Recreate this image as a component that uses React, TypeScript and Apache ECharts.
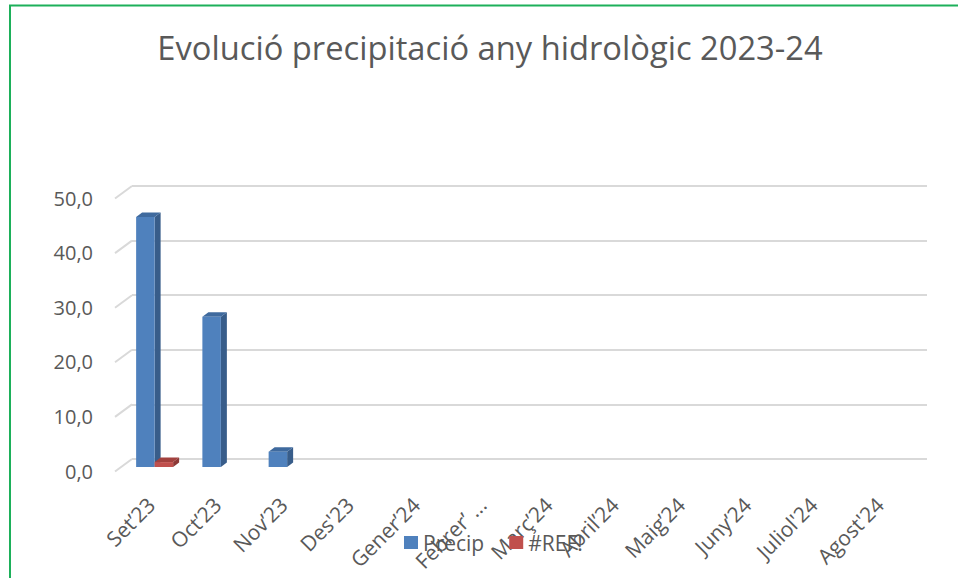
import React, { useEffect, useRef } from "react";
import * as echarts from "echarts";

const categories = [
  "Set’23", "Oct’23", "Nov’23", "Des'23", "Gener’24", "Febrer’ ...",
  "Març’24", "Abril’24", "Maig’24", "Juny’24", "Juliol'24", "Agost'24",
];
const precip: (number | null)[] = [45.8, 27.5, 2.8, null, null, null, null, null, null, null, null, null];
const refErr: (number | null)[] = [0.9, null, null, null, null, null, null, null, null, null, null, null];
const yTicks = [0, 10, 20, 30, 40, 50];

const TEXT = "#595959";
const GRIDC = "#d9d9d9";
const FONT = "Open Sans";

function bar3d(front: string, side: string, top: string, offset: number) {
  return (params: any, api: any) => {
    const v = api.value(1);
    if (v == null || isNaN(v)) return null;
    const idx = api.value(0);
    const p = api.coord([idx, v]);
    const b = api.coord([idx, 0]);
    const w = 18.5;
    const dx = -10.5, dy = 8;
    const x0 = p[0] + dx + offset - w / 2;
    const x1 = x0 + w;
    const yt = p[1] + dy;
    const yb = b[1] + dy;
    const ddx = 6, ddy = -4.5;
    return {
      type: "group",
      children: [
        {
          type: "polygon",
          shape: { points: [[x1, yt], [x1 + ddx, yt + ddy], [x1 + ddx, yb + ddy], [x1, yb]] },
          style: { fill: side },
        },
        {
          type: "polygon",
          shape: { points: [[x0, yt], [x0 + ddx, yt + ddy], [x1 + ddx, yt + ddy], [x1, yt]] },
          style: { fill: top },
        },
        { type: "rect", shape: { x: x0, y: yt, width: w, height: yb - yt }, style: { fill: front } },
      ],
    };
  };
}

export default function App() {
  const ref = useRef<HTMLDivElement>(null);
  useEffect(() => {
    if (!ref.current) return;
    const chart = echarts.init(ref.current, null, { renderer: "svg" });
    const option: any = {
      animation: false,
      backgroundColor: "#ffffff",
      title: {
        text: "Evolució precipitació any hidrològic 2023-24",
        left: 485,
        top: 26,
        textAlign: "center",
        textStyle: { fontFamily: FONT, fontSize: 32.7, fontWeight: "normal", color: TEXT },
      },
      legend: {
        left: 399,
        top: 527,
        itemWidth: 14,
        itemHeight: 13,
        itemGap: 25,
        icon: "rect",
        textStyle: { fontFamily: FONT, fontSize: 21, color: TEXT },
        data: ["Precip", "#REF!"],
      },
      grid: [
        { left: 132, right: 31, top: 186, bottom: 119 },
        { left: 115, right: 48, top: 198, bottom: 107 },
        { left: 118, right: 45, top: 198, bottom: 107 },
      ],
      xAxis: [
        { type: "category", gridIndex: 0, data: categories, axisLine: { show: false }, axisTick: { show: false }, axisLabel: { show: false } },
        { type: "category", gridIndex: 1, data: categories, axisLine: { show: false }, axisTick: { show: false }, axisLabel: { show: false } },
        {
          type: "category", gridIndex: 2, data: categories,
          axisLine: { show: false }, axisTick: { show: false },
          axisLabel: { interval: 0, rotate: 45, margin: 30, fontFamily: FONT, fontSize: 21, color: TEXT },
        },
      ],
      yAxis: [
        {
          type: "value", gridIndex: 0, min: 0, max: 50, interval: 10,
          axisLabel: { show: false }, axisLine: { show: false }, axisTick: { show: false },
          splitLine: { lineStyle: { color: GRIDC, width: 2 } },
        },
        {
          type: "value", gridIndex: 1, min: 0, max: 50, interval: 10,
          axisLine: { show: false }, axisTick: { show: false }, splitLine: { show: false },
          axisLabel: {
            margin: 22, fontFamily: FONT, fontSize: 20, color: TEXT,
            formatter: (v: number) => v.toFixed(1).replace(".", ","),
          },
        },
        {
          type: "value", gridIndex: 2, min: 0, max: 50, interval: 10, show: false,
        },
      ],
      series: [
        {
          type: "custom",
          name: "ticks",
          xAxisIndex: 0, yAxisIndex: 0,
          silent: true,
          data: yTicks.map((t) => [0, t]),
          renderItem: (params: any, api: any) => {
            const p = api.coord([0, api.value(1)]);
            const bw = api.size([1, 0])[0];
            const xl = p[0] - bw / 2;
            return {
              type: "line",
              shape: { x1: xl - 17, y1: p[1] + 12.5, x2: xl, y2: p[1] },
              style: { stroke: GRIDC, lineWidth: 2 },
            };
          },
        },
        {
          type: "custom",
          name: "Precip",
          xAxisIndex: 0, yAxisIndex: 0,
          itemStyle: { color: "#4F81BD" },
          data: precip.map((v, i) => [i, v]),
          renderItem: bar3d("#4F81BD", "#385D8A", "#3F6A9E", -9.25),
        },
        {
          type: "custom",
          name: "#REF!",
          xAxisIndex: 0, yAxisIndex: 0,
          itemStyle: { color: "#C0504D" },
          data: refErr.map((v, i) => [i, v]),
          renderItem: bar3d("#C0504D", "#8C3836", "#A2413E", 9.25),
        },
      ],
      graphic: [
        {
          type: "polyline",
          shape: { points: [[10, 578], [10, 5.5], [958, 5.5]] },
          style: { stroke: "#1DB05A", lineWidth: 2, fill: "none" },
        },
      ],
    };
    chart.setOption(option);
    return () => chart.dispose();
  }, []);
  return (
    <div
      ref={ref}
      style={{ position: "fixed", left: 0, top: 0, width: 958, height: 578 }}
    />
  );
}
